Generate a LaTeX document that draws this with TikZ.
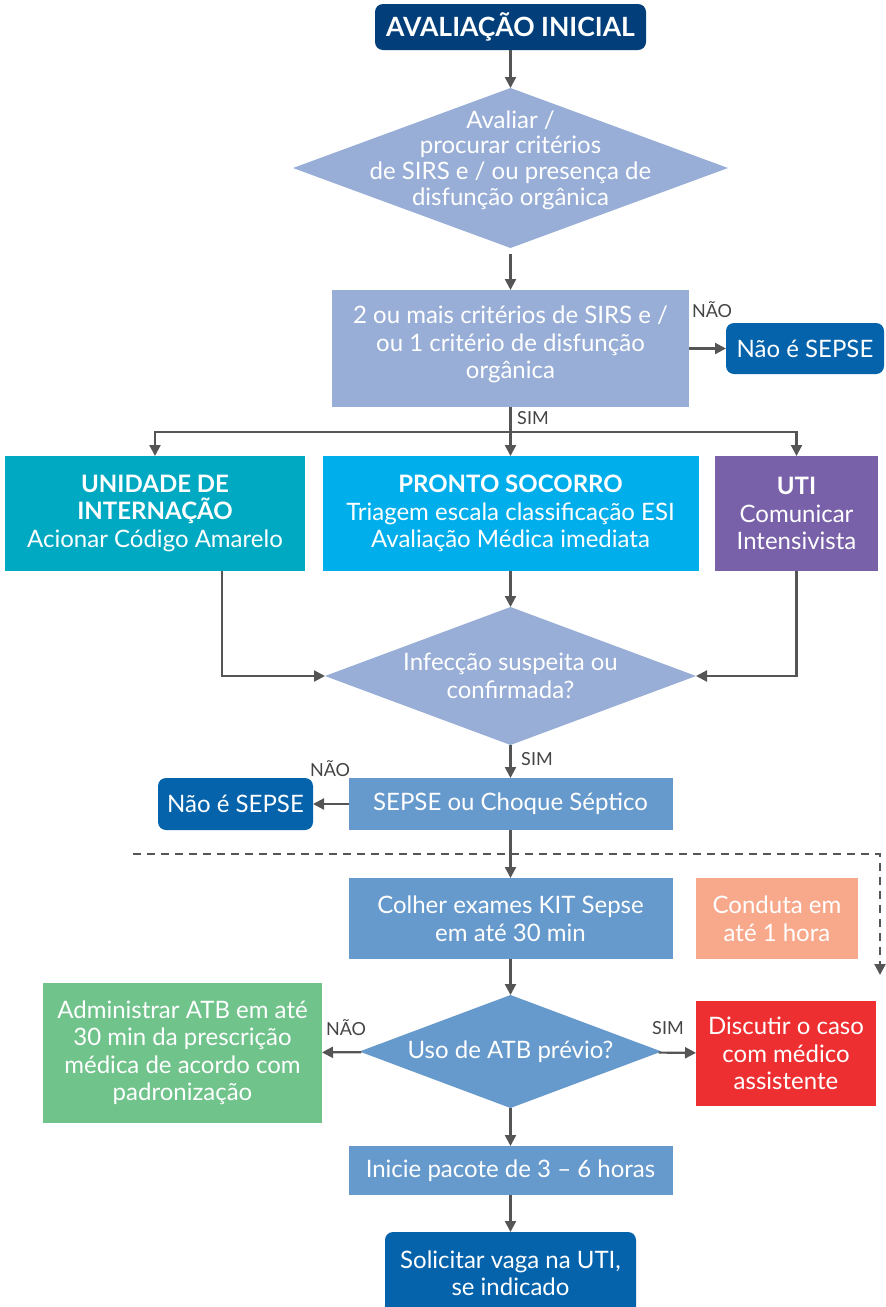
\documentclass[tikz,border=0pt]{standalone}
\usepackage{fontspec}
\setmainfont{Lato}
\usetikzlibrary{shapes.geometric,arrows.meta}
\definecolor{navy}{HTML}{023F7A}
\definecolor{blueR}{HTML}{0563AC}
\definecolor{lav}{HTML}{98AED6}
\definecolor{mid}{HTML}{6699CC}
\definecolor{tealb}{HTML}{00A9C2}
\definecolor{sky}{HTML}{00AEEC}
\definecolor{purp}{HTML}{7861A8}
\definecolor{salmon}{HTML}{F8A98C}
\definecolor{grn}{HTML}{70C38B}
\definecolor{redb}{HTML}{EE2F31}
\definecolor{arr}{HTML}{555555}
\definecolor{labc}{HTML}{444444}
\begin{document}
\begin{tikzpicture}[x=1pt,y=-1pt,
  box/.style={rectangle, inner sep=0pt, outer sep=0pt, text=white, align=center, font=\fontsize{24}{27.5}\selectfont},
  rbox/.style={box, rounded corners=8pt},
  dia/.style={diamond, inner sep=0pt, outer sep=0pt},
  txt/.style={text=white, align=center, inner sep=0pt, font=\fontsize{24}{27.5}\selectfont},
  lab/.style={text=labc, inner sep=0pt, font=\fontsize{18}{20}\selectfont},
  arrow/.style={draw=arr, line width=2.2pt, -{Triangle[length=11pt,width=11pt]}},
  plain/.style={draw=arr, line width=2.2pt},
  dline/.style={draw=arr, line width=2.2pt, dash pattern=on 8pt off 6pt, -{Triangle[length=11pt,width=11pt]}}
]
\useasboundingbox (0,0) rectangle (886,1307);

\node[rbox, fill=navy, minimum width=271pt, minimum height=46pt, font=\bfseries\fontsize{26.5}{30}\selectfont] (start) at (510.5,27) {AVALIAÇÃO INICIAL};

\node[dia, fill=lav, minimum width=435pt, minimum height=160pt] (d1) at (510.5,168) {};
\node[txt, font=\fontsize{24}{25.7}\selectfont] (d1t) at ([yshift=8pt]d1.center) {Avaliar /\\procurar critérios\\de SIRS e / ou presença de\\disfunção orgânica};

\node[box, fill=lav, minimum width=357pt, minimum height=117pt] (b2) at (510.5,348.5) {};
\node[txt] (b2t) at ([yshift=4pt]b2.center) {2 ou mais critérios de SIRS e /\\ou 1 critério de disfunção\\orgânica};
\node[rbox, fill=blueR, minimum width=158pt, minimum height=51pt] (nos1) at (805,348.5) {Não é SEPSE};
\node[lab] (l1) at (712,310) {NÃO};
\node[lab] (l2) at (533,418) {SIM};

\node[box, fill=tealb, minimum width=300pt, minimum height=115pt] (unid) at (155,513.5) {\textbf{UNIDADE DE}\\\textbf{INTERNAÇÃO}\\Acionar Código Amarelo};
\node[box, fill=sky, minimum width=376pt, minimum height=115pt] (ps) at (510.5,513.5) {\textbf{PRONTO SOCORRO}\\Triagem escala classificação ESI\\Avaliação Médica imediata};
\node[box, fill=purp, minimum width=163pt, minimum height=115pt] (uti) at (796.5,513.5) {\textbf{UTI}\\Comunicar\\Intensivista};

\node[dia, fill=lav, minimum width=371pt, minimum height=138pt] (d2) at (510.5,676) {};
\node[txt] (d2t) at (d2.center) {Infecção suspeita ou\\confirmada?};

\node[box, fill=mid, minimum width=324pt, minimum height=52pt] (sep) at (510.5,804) {SEPSE ou Choque Séptico};
\node[rbox, fill=blueR, minimum width=155pt, minimum height=52pt] (nos2) at (235.5,804) {Não é SEPSE};
\node[lab] (l3) at (537,759) {SIM};
\node[lab] (l4) at (330,769) {NÃO};

\node[box, fill=mid, minimum width=324pt, minimum height=81pt] (col) at (510.5,918.5) {Colher exames KIT Sepse\\em até 30 min};
\node[box, fill=salmon, minimum width=162pt, minimum height=81pt] (cond) at (777,918.5) {Conduta em\\até 1 hora};

\node[dia, fill=mid, minimum width=302pt, minimum height=113pt] (d3) at (510.5,1051.5) {};
\node[txt] (d3t) at (d3.center) {Uso de ATB prévio?};

\node[box, fill=grn, minimum width=279pt, minimum height=140pt] (grn) at (182.5,1053) {Administrar ATB em até\\30 min da prescrição\\médica de acordo com\\padronização};
\node[box, fill=redb, minimum width=180pt, minimum height=105pt] (red) at (786,1053.5) {Discutir o caso\\com médico\\assistente};
\node[lab] (l5) at (346,1028) {NÃO};
\node[lab] (l6) at (668,1028) {SIM};

\node[box, fill=mid, minimum width=324pt, minimum height=49pt] (ini) at (510.5,1170.5) {Inicie pacote de 3 – 6 horas};
\node[rbox, fill=blueR, minimum width=251pt, minimum height=82pt] (sol) at (510.5,1273) {Solicitar vaga na UTI,\\se indicado};

% connectors
\draw[arrow] (start) -- (d1);
\draw[arrow] ([yshift=-6pt]d1.south) -- (b2);
\draw[arrow] (b2) -- (nos1);
\coordinate (j) at (510.5,432);
\draw[plain] (b2) -- (j);
\draw[arrow] (j) -| (unid.north);
\draw[arrow] (j) -| (uti.north);
\draw[arrow] (j) -- (ps.north);
\draw[arrow] ([xshift=67pt]unid.south) |- (d2.west);
\draw[arrow] (uti.south) |- (d2.east);
\draw[arrow] (ps) -- (d2);
\draw[arrow] (d2) -- (sep);
\draw[arrow] (sep) -- (nos2);
\coordinate (da) at (133,854);
\coordinate (db) at (880,854);
\coordinate (dc) at (880,975);
\draw[dline] (da) -- (db) -- (dc);
\draw[arrow] (sep) -- (col);
\draw[arrow] (col) -- (d3);
\draw[arrow] (d3) -- (grn);
\draw[arrow] (d3) -- (red);
\draw[arrow] (d3) -- (ini);
\draw[arrow] (ini) -- (sol);
\end{tikzpicture}
\end{document}
